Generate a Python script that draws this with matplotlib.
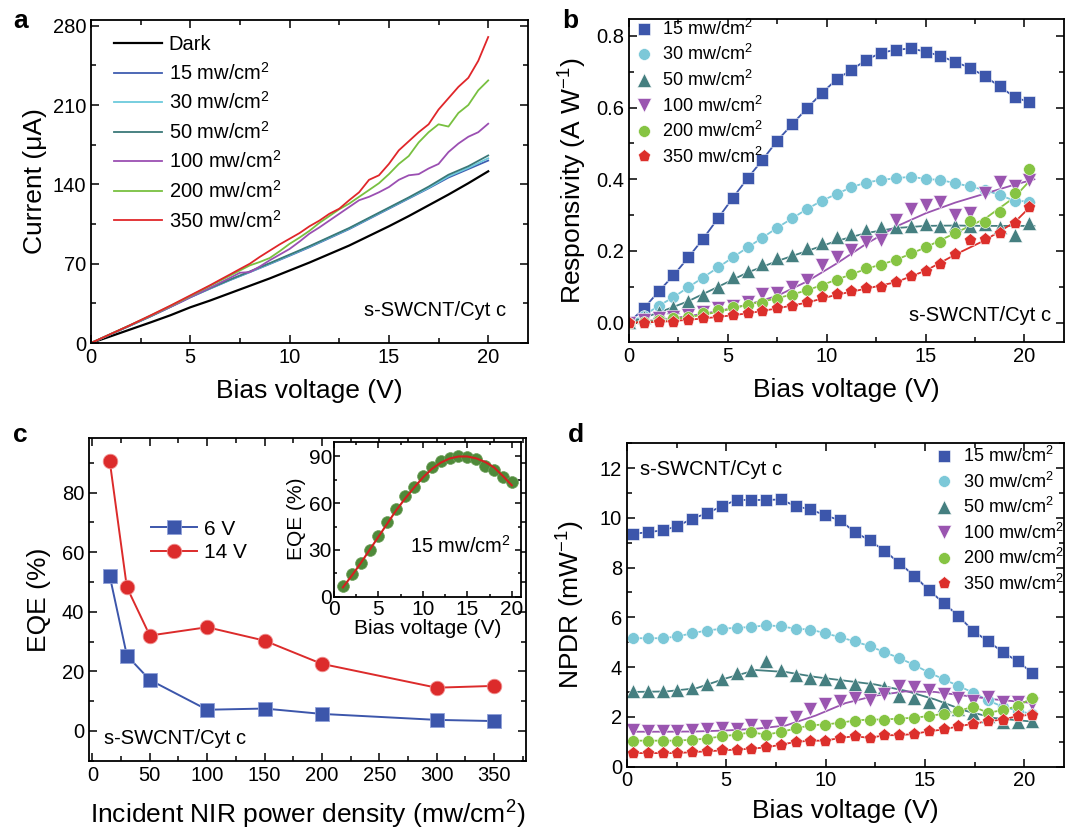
import numpy as np
import matplotlib
matplotlib.use("Agg")
import matplotlib.pyplot as plt
from matplotlib.ticker import MultipleLocator

plt.rcParams['font.family'] = ['Liberation Sans', 'DejaVu Sans']
plt.rcParams['mathtext.fontset'] = 'custom'
plt.rcParams['mathtext.rm'] = 'Liberation Sans'
plt.rcParams['mathtext.it'] = 'Liberation Sans:italic'
plt.rcParams['axes.linewidth'] = 1.3

# ---------------- data: panel a (I-V curves) ----------------
v_smooth = list(range(0, 21))
i_dark = [0, 6, 12.1, 18.2, 24.5, 31.5, 37.5, 44, 50.5, 57, 64, 71, 78.5, 86, 94.5, 103, 112, 121.5, 131, 141, 151.5]
i_15 = [0, 7.8, 15.6, 23.5, 31.8, 40.3, 48, 55.5, 62.5, 69.7, 77, 84.5, 92.5, 100.5, 109.5, 118.5, 127.5, 136.5, 146, 153.5, 161]
i_30 = [0, 7.8, 15.6, 23.5, 31.8, 40.4, 48.1, 55.7, 62.8, 70, 77.5, 85, 93, 101, 110, 119, 128, 137, 147, 154.5, 163]
i_50 = [0, 7.9, 15.7, 23.6, 32, 40.6, 48.4, 56, 63.2, 70.5, 78, 85.5, 93.5, 101.5, 110.5, 119.5, 128.5, 138, 148.5, 156, 165.5]

v_half = [i * 0.5 for i in range(41)]
i_100 = [0, 3.9, 7.9, 11.8, 15.8, 19.8, 23.8, 27.8, 31.9, 36, 40.4, 44.6, 48.8, 53.2, 57.5, 62, 62.6, 67.5, 73, 78, 83,
         89.5, 96.5, 102, 108, 114, 120, 126, 129, 133, 137.6, 144, 148, 149, 154, 158, 168.5, 176, 182, 186, 193.5]
i_200 = [0, 4, 8, 12, 16, 20.1, 24.2, 28.4, 32.7, 37, 41.5, 46, 50.5, 55, 59.5, 64, 68.5, 71.5, 75, 81, 87.5,
         93, 99, 106, 112, 118, 123, 129, 135, 141, 149, 158, 165, 177, 186, 193, 191, 203, 210, 223, 231.7]
i_350 = [0, 4, 8, 12, 16, 20.2, 24.4, 28.7, 33, 37.5, 42, 46.5, 51, 55.8, 60.5, 65.3, 70, 76, 81.5, 87, 92,
         97, 103, 108, 114, 118.5, 126, 133, 144, 148, 158, 170, 178, 186, 193, 206, 216, 226, 234, 249, 270]

# ---------------- data: panel b (responsivity) ----------------
vb = [i * 0.75 for i in range(28)]
r_15 = [0.0, 0.04, 0.087, 0.132, 0.182, 0.234, 0.291, 0.348, 0.403, 0.454, 0.508, 0.553, 0.598, 0.64,
        0.679, 0.705, 0.733, 0.753, 0.761, 0.765, 0.756, 0.744, 0.727, 0.711, 0.687, 0.659, 0.629, 0.615]
r_30 = [0.0, 0.02, 0.047, 0.071, 0.099, 0.126, 0.154, 0.182, 0.21, 0.237, 0.265, 0.291, 0.317, 0.34,
        0.359, 0.378, 0.391, 0.398, 0.403, 0.407, 0.401, 0.398, 0.389, 0.38, 0.37, 0.356, 0.34, 0.338]
r_50 = [0.003, 0.017, 0.031, 0.045, 0.06, 0.077, 0.1, 0.128, 0.145, 0.163, 0.18, 0.189, 0.207, 0.221,
        0.238, 0.247, 0.259, 0.266, 0.268, 0.27, 0.275, 0.27, 0.273, 0.27, 0.275, 0.268, 0.245, 0.277]
r_100 = [0.0, 0.007, 0.012, 0.017, 0.021, 0.031, 0.04, 0.047, 0.059, 0.08, 0.084, 0.1, 0.119, 0.161,
         0.182, 0.203, 0.226, 0.231, 0.287, 0.316, 0.328, 0.338, 0.3, 0.305, 0.361, 0.393, 0.38, 0.398]
r_200 = [0.0, 0.003, 0.007, 0.012, 0.017, 0.026, 0.035, 0.045, 0.049, 0.056, 0.066, 0.077, 0.091, 0.102,
         0.119, 0.136, 0.152, 0.161, 0.175, 0.193, 0.212, 0.226, 0.249, 0.285, 0.282, 0.308, 0.363, 0.428]
r_350 = [0.0, 0.0, 0.003, 0.003, 0.007, 0.012, 0.017, 0.021, 0.026, 0.033, 0.04, 0.047, 0.059, 0.073,
         0.079, 0.089, 0.096, 0.1, 0.114, 0.13, 0.145, 0.163, 0.192, 0.231, 0.233, 0.249, 0.279, 0.324]
# fitted curves
vfit_b = [0, 1.5, 3, 4.5, 6, 7.5, 9, 10.5, 12, 13.5, 15, 16.5, 18, 19.5, 20.5]
f_50 = [0, 0.028, 0.06, 0.1, 0.14, 0.172, 0.2, 0.228, 0.25, 0.264, 0.27, 0.271, 0.27, 0.27, 0.27]
f_100 = [0, 0.008, 0.018, 0.032, 0.05, 0.075, 0.115, 0.165, 0.22, 0.268, 0.305, 0.335, 0.36, 0.385, 0.4]
f_200 = [0, 0.005, 0.015, 0.03, 0.05, 0.068, 0.09, 0.12, 0.15, 0.175, 0.21, 0.25, 0.29, 0.35, 0.41]
f_350 = [0, 0.002, 0.008, 0.016, 0.026, 0.04, 0.056, 0.078, 0.095, 0.113, 0.145, 0.19, 0.23, 0.28, 0.335]

# ---------------- data: panel c (EQE) ----------------
power = [15, 30, 50, 100, 150, 200, 300, 350]
eqe_6v = [52.1, 25.3, 17.1, 7.1, 7.5, 5.7, 3.7, 3.3]
eqe_14v = [90.7, 48.2, 32.0, 34.8, 30.3, 22.5, 14.5, 15.1]
v_inset = list(range(1, 21))
eqe_inset = [7, 14.4, 21.4, 30, 39, 47.8, 56.1, 64.7, 70.7, 77.6, 83.1, 86.8, 88.9, 90, 89.6, 88.3, 84.2, 81.4, 77.1, 73.9]
eqe_inset_fit = [6, 13.5, 21.5, 30, 38.5, 47, 55.5, 63, 70, 76.5, 82, 86, 88.7, 90, 90, 88.8, 86.5, 83, 77.5, 71.5]

# ---------------- data: panel d (NPDR) ----------------
vd = [0.3 + i * 0.745 for i in range(28)]
n_15 = [9.36, 9.42, 9.5, 9.66, 9.97, 10.18, 10.47, 10.72, 10.72, 10.72, 10.74, 10.47, 10.34, 10.1,
        9.9, 9.43, 9.09, 8.68, 8.18, 7.68, 7.09, 6.58, 6.05, 5.45, 5.04, 4.6, 4.23, 3.76]
n_30 = [5.16, 5.16, 5.16, 5.23, 5.36, 5.47, 5.54, 5.58, 5.61, 5.68, 5.64, 5.54, 5.51, 5.36,
        5.2, 5.03, 4.84, 4.6, 4.36, 4.09, 3.78, 3.51, 3.24, 2.97, 2.66, 2.4, 2.25, 2.1]
n_50 = [3.04, 3.04, 3.04, 3.08, 3.15, 3.3, 3.52, 3.76, 3.88, 4.23, 3.88, 3.68, 3.55, 3.5,
        3.38, 3.31, 3.24, 3.2, 2.84, 2.77, 2.61, 2.47, 2.3, 2.16, 2.03, 1.8, 1.8, 1.82]
n_100 = [1.45, 1.42, 1.42, 1.42, 1.45, 1.49, 1.55, 1.51, 1.69, 1.62, 1.76, 2.0, 2.32, 2.5,
         2.64, 2.77, 2.69, 2.91, 3.22, 3.18, 3.07, 2.93, 2.77, 2.64, 2.8, 2.61, 2.61, 2.5]
n_200 = [1.04, 1.04, 1.04, 1.04, 1.08, 1.12, 1.22, 1.28, 1.38, 1.28, 1.39, 1.53, 1.66, 1.69,
         1.76, 1.85, 1.89, 1.89, 1.93, 1.96, 2.03, 2.12, 2.23, 2.41, 2.16, 2.27, 2.43, 2.77]
n_350 = [0.54, 0.54, 0.54, 0.54, 0.58, 0.61, 0.65, 0.68, 0.72, 0.77, 0.88, 0.99, 1.04, 1.04,
         1.15, 1.22, 1.15, 1.26, 1.26, 1.31, 1.42, 1.49, 1.62, 1.72, 1.82, 1.89, 2.03, 2.09]
vfit_d = [0.3, 2, 3.5, 5, 6.5, 8, 9.5, 11, 12.5, 14, 15.5, 17, 18.5, 20.5]
fd_50 = [3.0, 3.02, 3.15, 3.55, 3.88, 3.8, 3.6, 3.45, 3.3, 3.05, 2.7, 2.25, 1.95, 1.8]
fd_100 = [1.4, 1.4, 1.41, 1.45, 1.52, 1.65, 2.05, 2.55, 2.85, 3.02, 3.0, 2.85, 2.7, 2.55]

labels = ['15 mw/cm$^2$', '30 mw/cm$^2$', '50 mw/cm$^2$', '100 mw/cm$^2$', '200 mw/cm$^2$', '350 mw/cm$^2$']
c_blue = '#3c56ab'
c_cyan = '#7cc8d8'
c_teal = '#457f80'
c_purple = '#9a55b0'
c_green = '#86c443'
c_red = '#dc2f2b'
cols = [c_blue, c_cyan, c_teal, c_purple, c_green, c_red]
markers = ['s', 'o', '^', 'v', 'o', 'p']

fig = plt.figure(figsize=(10.65, 8.34), dpi=100)

TICK = 14.5
LAB = 19


def style(ax):
    ax.tick_params(which='both', direction='in', top=True, right=True, labelsize=TICK, width=1.1)
    ax.tick_params(which='major', length=6)
    ax.tick_params(which='minor', length=3.5)


# ---------------- panel a ----------------
axa = fig.add_axes([0.0854, 0.5887, 0.4103, 0.3873])
axa.plot(v_smooth, i_dark, color='black', lw=1.6, label='Dark')
axa.plot(v_smooth, i_15, color='#3f5db0', lw=1.3, label=labels[0])
axa.plot(v_smooth, i_30, color='#6ccadc', lw=1.3, label=labels[1])
axa.plot(v_smooth, i_50, color='#3a7878', lw=1.3, label=labels[2])
axa.plot(v_half, i_100, color='#9b4fb2', lw=1.3, label=labels[3])
axa.plot(v_half, i_200, color='#78c040', lw=1.3, label=labels[4])
axa.plot(v_half, i_350, color='#e0262a', lw=1.3, label=labels[5])
axa.set_xlim(0, 22)
axa.set_ylim(0, 285)
axa.xaxis.set_major_locator(MultipleLocator(5))
axa.xaxis.set_minor_locator(MultipleLocator(2.5))
axa.set_yticks([0, 70, 140, 210, 280])
axa.yaxis.set_minor_locator(MultipleLocator(35))
style(axa)
axa.set_xlabel('Bias voltage (V)', fontsize=LAB, labelpad=9)
axa.set_ylabel('Current (\u03bcA)', fontsize=LAB, labelpad=4)
axa.legend(loc='upper left', frameon=False, fontsize=14.5, handlelength=2.35, handletextpad=0.35,
           labelspacing=0.38, borderaxespad=0.3, bbox_to_anchor=(0.021, 0.997))
axa.text(0.95, 0.1, 's-SWCNT/Cyt c', transform=axa.transAxes, ha='right', va='center', fontsize=14.5)

# ---------------- panel b ----------------
axb = fig.add_axes([0.5906, 0.5903, 0.4085, 0.3869])
rs = [r_15, r_30, r_50, r_100, r_200, r_350]
axb.plot(vb, r_15, color=c_blue, lw=1.3)
axb.plot(vb, r_30, color=c_cyan, lw=1.3)
axb.plot(vfit_b, f_50, color=c_teal, lw=1.3)
axb.plot(vfit_b, f_100, color=c_purple, lw=1.3)
axb.plot(vfit_b, f_200, color=c_green, lw=1.3)
axb.plot(vfit_b, f_350, color=c_red, lw=1.3)
for r, c, m, lab in zip(rs, cols, markers, labels):
    ms = 8.5 if m in ('s', 'o') else 9.5
    axb.plot(vb, r, linestyle='none', marker=m, color=c, ms=ms, mec='white', mew=0.4, label=lab)
axb.set_xlim(0, 22)
axb.set_ylim(-0.053, 0.847)
axb.xaxis.set_major_locator(MultipleLocator(5))
axb.xaxis.set_minor_locator(MultipleLocator(2.5))
axb.yaxis.set_major_locator(MultipleLocator(0.2))
axb.yaxis.set_minor_locator(MultipleLocator(0.1))
axb.yaxis.set_major_formatter(matplotlib.ticker.FormatStrFormatter('%.1f'))
style(axb)
axb.set_xlabel('Bias voltage (V)', fontsize=LAB, labelpad=9)
axb.set_ylabel('Responsivity (A W$^{-1}$)', fontsize=LAB, labelpad=5)
axb.legend(loc='upper left', frameon=False, fontsize=13, handlelength=1.0, handletextpad=0.5,
           labelspacing=0.3, borderaxespad=0.2, bbox_to_anchor=(-0.011, 1.034))
axb.text(0.97, 0.08, 's-SWCNT/Cyt c', transform=axb.transAxes, ha='right', va='center', fontsize=14.5)

# ---------------- panel c ----------------
axc = fig.add_axes([0.0836, 0.0879, 0.4103, 0.3869])
axc.plot(power, eqe_6v, color=c_blue, lw=1.4, marker='s', ms=10, mec='#8fa0d8', mew=0.6, label='6 V')
axc.plot(power, eqe_14v, color='#dc2b2b', lw=1.4, marker='o', ms=10.5, mec='#f09090', mew=0.6, label='14 V')
axc.set_xlim(-3, 378)
axc.set_ylim(-10, 98.3)
axc.xaxis.set_major_locator(MultipleLocator(50))
axc.xaxis.set_minor_locator(MultipleLocator(25))
axc.yaxis.set_major_locator(MultipleLocator(20))
axc.yaxis.set_minor_locator(MultipleLocator(10))
style(axc)
axc.set_xlabel('Incident NIR power density (mw/cm$^2$)', fontsize=LAB, labelpad=10)
axc.set_ylabel('EQE (%)', fontsize=LAB, labelpad=8)
axc.legend(loc='upper left', frameon=False, fontsize=15, handlelength=2.2, handletextpad=0.3,
           labelspacing=0.2, bbox_to_anchor=(0.10, 0.805))
axc.text(0.035, 0.07, 's-SWCNT/Cyt c', transform=axc.transAxes, ha='left', va='center', fontsize=14.5)

# inset
axi = fig.add_axes([0.3136, 0.2845, 0.1753, 0.1859])
axi.plot(v_inset, eqe_inset, linestyle='none', marker='o', ms=8.5, color='#4f8a3a', mec='#6da05a', mew=0.5)
axi.plot(v_inset, eqe_inset_fit, color='#d42020', lw=1.5)
axi.set_xlim(0, 21)
axi.set_ylim(0, 99.5)
axi.xaxis.set_major_locator(MultipleLocator(5))
axi.xaxis.set_minor_locator(MultipleLocator(2.5))
axi.yaxis.set_major_locator(MultipleLocator(30))
axi.yaxis.set_minor_locator(MultipleLocator(15))
style(axi)
axi.tick_params(labelsize=15)
axi.tick_params(axis='x', pad=2.5)
axi.tick_params(axis='y', pad=1.5)
axi.tick_params(which='major', length=4)
axi.tick_params(which='minor', length=2.5)
axi.set_xlabel('Bias voltage (V)', fontsize=15, labelpad=0)
axi.set_ylabel('EQE (%)', fontsize=15, labelpad=2)
axi.text(0.95, 0.33, '15 mw/cm$^2$', transform=axi.transAxes, ha='right', va='center', fontsize=14.5)

# ---------------- panel d ----------------
axd = fig.add_axes([0.5887, 0.0809, 0.4103, 0.3876])
ns = [n_15, n_30, n_50, n_100, n_200, n_350]
axd.plot(vd, n_15, color=c_blue, lw=1.3)
axd.plot(vd, n_30, color=c_cyan, lw=1.3)
axd.plot(vfit_d, fd_50, color=c_teal, lw=1.3)
axd.plot(vfit_d, fd_100, color=c_purple, lw=1.3)
axd.plot(vd, n_200, color=c_green, lw=1.3)
axd.plot(vd, n_350, color=c_red, lw=1.3)
for n, c, m, lab in zip(ns, cols, markers, labels):
    ms = 8.5 if m in ('s', 'o') else 9.5
    axd.plot(vd, n, linestyle='none', marker=m, color=c, ms=ms, mec='white', mew=0.4, label=lab)
axd.set_xlim(0, 22)
axd.set_ylim(0, 13)
axd.xaxis.set_major_locator(MultipleLocator(5))
axd.xaxis.set_minor_locator(MultipleLocator(2.5))
axd.yaxis.set_major_locator(MultipleLocator(2))
axd.yaxis.set_minor_locator(MultipleLocator(1))
style(axd)
axd.set_xlabel('Bias voltage (V)', fontsize=LAB, labelpad=6)
axd.set_ylabel('NPDR (mW$^{-1}$)', fontsize=LAB, labelpad=9)
axd.legend(loc='upper right', frameon=False, fontsize=13, handlelength=1.0, handletextpad=0.5,
           labelspacing=0.3, borderaxespad=0.2, bbox_to_anchor=(1.023, 1.025))
axd.text(0.03, 0.92, 's-SWCNT/Cyt c', transform=axd.transAxes, ha='left', va='center', fontsize=14.5)

# panel letters
for x, y, s in [(0.012, 0.975, 'a'), (0.528, 0.975, 'b'), (0.012, 0.478, 'c'), (0.533, 0.478, 'd')]:
    fig.text(x, y, s, fontsize=19, fontweight='bold', ha='left', va='center')

fig.savefig('out.png', dpi=100)
